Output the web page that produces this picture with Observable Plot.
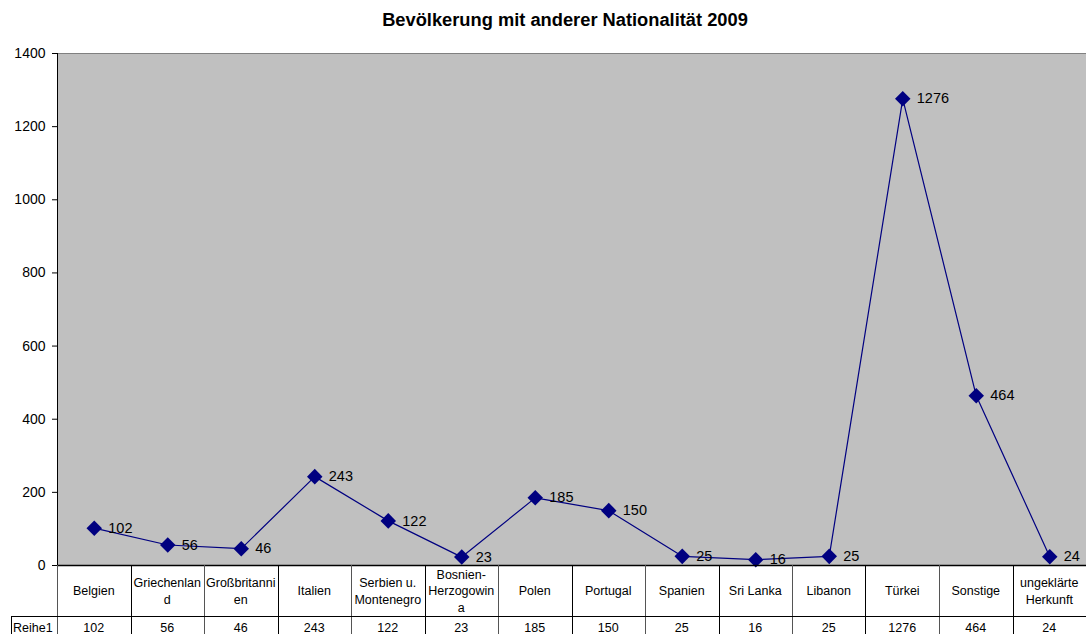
<!DOCTYPE html>
<html><head><meta charset="utf-8">
<script src="https://cdn.jsdelivr.net/npm/d3@7"></script>
<script src="https://cdn.jsdelivr.net/npm/@observablehq/plot@0.6"></script>
<style>
body{margin:0;background:#fff;font-family:"Liberation Sans",Arial,sans-serif;}
#title{height:40px;line-height:40px;font-size:18.3px;font-weight:bold;text-align:center;width:1086px;padding-left:44px;box-sizing:border-box;color:#000;}
#chart svg{display:block;overflow:visible;}
</style></head><body>
<div id="title">Bevölkerung mit anderer Nationalität 2009</div>
<div id="chart"></div>
<script>
const categories = ["Belgien","Griechenland","Großbritannien","Italien","Serbien u. Montenegro","Bosnien-Herzogowina","Polen","Portugal","Spanien","Sri Lanka","Libanon","Türkei","Sonstige","ungeklärte Herkunft"];
const headerLabels = ["Belgien","Griechenlan\nd","Großbritanni\nen","Italien","Serbien u.\nMontenegro","Bosnien-\nHerzogowin\na","Polen","Portugal","Spanien","Sri Lanka","Libanon","Türkei","Sonstige","ungeklärte\nHerkunft"];
const values = [102,56,46,243,122,23,185,150,25,16,25,1276,464,24];
const seriesName = "Reihe1";
const yTicks = [0,200,400,600,800,1000,1200,1400];

const data = categories.map((c,i)=>({cat:c, label:headerLabels[i], value:values[i], i}));
const px = d => d.i + 0.5;

const plot = Plot.plot({
  width:1086, height:594, marginTop:13, marginBottom:69, marginLeft:57, marginRight:0,
  style:{fontFamily:"Liberation Sans, Arial, sans-serif", fontSize:"14px", background:"transparent", overflow:"visible", color:"#000"},
  x:{domain:[0,categories.length], axis:null},
  y:{domain:[0,1400], ticks:yTicks, tickFormat:d=>String(d), tickSize:5, tickPadding:7, label:null},
  marks:[
    Plot.frame({fill:"#c0c0c0", stroke:null}),
    Plot.ruleY([1400],{stroke:"#808080"}),
    Plot.ruleX([0],{stroke:"#000"}),
    Plot.line(data,{x:px, y:"value", stroke:"#000080", strokeWidth:1.2}),
    Plot.dot(data,{x:px, y:"value", symbol:"diamond2", r:7, fill:"#000080", stroke:null}),
    Plot.text(data,{x:px, y:"value", text:d=>String(d.value), dx:14, textAnchor:"start", fill:"#000", fontSize:14.5}),
    Plot.ruleY([0],{stroke:"#000", strokeWidth:1.6})
  ]
});
document.getElementById("chart").appendChild(plot);

// data table below the plot, aligned with the plot's x scale
const xs = plot.scale("x"), ys = plot.scale("y");
const sx = d3.scaleLinear(xs.domain, xs.range);
const sy = d3.scaleLinear(ys.domain, ys.range);
const svg = d3.select(plot);
const y0 = sy(0), headerH = 51, bottom = 594;
const g = svg.append("g").attr("font-family","Liberation Sans, Arial, sans-serif").attr("font-size",12.5).attr("fill","#000");
const cols = d3.range(categories.length + 1);
g.selectAll("line.v").data(cols).join("line")
  .attr("x1",k=>Math.round(sx(k))+0.5).attr("x2",k=>Math.round(sx(k))+0.5)
  .attr("y1",y0).attr("y2",bottom).attr("stroke",k=>k%2?"#000":"#555").attr("stroke-width",1);
g.append("line").attr("x1",11.5).attr("x2",1086).attr("y1",y0+headerH+0.5).attr("y2",y0+headerH+0.5).attr("stroke","#000");
g.append("line").attr("x1",11.5).attr("x2",11.5).attr("y1",y0+headerH).attr("y2",bottom).attr("stroke","#000");
const lh = 16.5;
data.forEach(d=>{
  const lines = d.label.split("\n");
  const t = g.append("text").attr("text-anchor","middle");
  lines.forEach((ln,j)=>{
    t.append("tspan").attr("x",sx(d.i+0.5))
     .attr("y", y0 + 26 + (j - (lines.length-1)/2)*lh).attr("dy","0.35em").text(ln);
  });
  g.append("text").attr("text-anchor","middle").attr("x",sx(d.i+0.5)).attr("y",y0+67).text(String(d.value));
});
g.append("text").attr("text-anchor","start").attr("x",13).attr("y",y0+67).text(seriesName);
</script>
</body></html>
